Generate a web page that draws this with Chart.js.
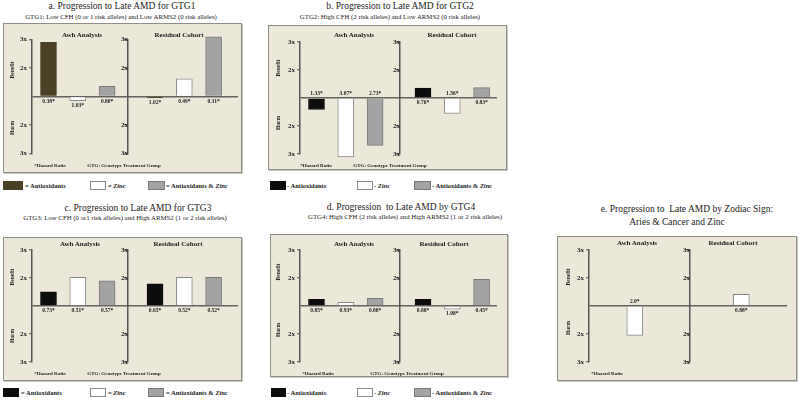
<!DOCTYPE html>
<html>
<head>
<meta charset="utf-8">
<script src="https://cdn.jsdelivr.net/npm/chart.js@4.4.1/dist/chart.umd.min.js"></script>
<style>
  body { margin: 0; width: 800px; height: 400px; background: #fff; position: relative; overflow: hidden; font-family: "Liberation Serif", serif; }
  .box { position: absolute; box-sizing: border-box; background: #ebe8d9; border: 1.5px solid #8e8e87; box-shadow: 1px 1px 0 #c9c9c2; }
  canvas { position: absolute; }
</style>
</head>
<body>
<script>
// ---- data ----
var treatments = ['Antioxidants', 'Zinc', 'Antioxidants & Zinc'];
var tickValues = [-2, -1, 0, 1, 2];
var tickLabels = ['3x', '2x', '', '2x', '3x'];

// benefit (+) / harm (-) bar heights, Awh analysis and residual cohort
var awhGTG1 = [1.9, -0.15, 0.36];
var resGTG1 = [-0.05, 0.62, 2.09];
var hrAwhGTG1 = ['0.38*', '1.03*', '0.80*'];
var hrResGTG1 = ['1.02*', '0.49*', '0.31*'];

var awhGTG2 = [-0.41, -2.1, -1.69];
var resGTG2 = [0.35, -0.55, 0.37];
var hrAwhGTG2 = ['1.33*', '3.07*', '2.73*'];
var hrResGTG2 = ['0.76*', '1.56*', '0.83*'];

var awhGTG3 = [0.51, 1.02, 0.9];
var resGTG3 = [0.79, 1.02, 1.02];
var hrAwhGTG3 = ['0.73*', '0.51*', '0.57*'];
var hrResGTG3 = ['0.65*', '0.52*', '0.52*'];

var awhGTG4 = [0.24, 0.13, 0.27];
var resGTG4 = [0.24, -0.11, 0.95];
var hrAwhGTG4 = ['0.85*', '0.93*', '0.88*'];
var hrResGTG4 = ['0.88*', '1.08*', '0.45*'];

var awhZodiac = [null, -1.05, null];
var resZodiac = [null, 0.42, null];
var hrAwhZodiac = [null, '2.0*', null];
var hrResZodiac = [null, '0.88*', null];

var titles = [
  'a. Progression to Late AMD for GTG1',
  'b. Progression to Late AMD for GTG2',
  'c. Progression to Late AMD for GTG3',
  'd. Progression  to Late AMD by GTG4',
  'e. Progression to  Late AMD by Zodiac Sign:'
];
var subtitles = [
  'GTG1: Low CFH (0 or 1 risk alleles) and Low ARMS2 (0 risk alleles)',
  'GTG2: High CFH (2 risk alleles) and Low ARMS2 (0 risk alleles)',
  'GTG3: Low CFH (0 or1 risk alleles) and High ARMS2 (1 or 2 risk alleles)',
  'GTG4: High CFH (2 risk alleles) and High ARMS2 (1 or 2 risk alleles)',
  'Aries & Cancer and Zinc'
];

// ---- layout (page pixels) ----
var RES_SHIFT = 3.635; // residual bars start after the gap
var panels = [
  { awh: awhGTG1, res: resGTG1, hr: hrAwhGTG1.concat(hrResGTG1), anti: '#4a4026',
    box: [3, 23, 239, 150], pad: { left: 15, right: 4, top: 16.5, bottom: 19.5 }, xMax: 6.467, resAxis: 2.713,
    title: [122, 6], sub: [121, 16, 6.8], heads: [[82, 35], [179, 35]], side: [[12, 70], [12, 128]],
    notes: [[50, 165], [124, 165]], legendY: 185, dash: '= ', legend: [[3, 20, 25], [90, 16, 108], [148, 17, 166]] },
  { awh: awhGTG2, res: resGTG2, hr: hrAwhGTG2.concat(hrResGTG2), anti: '#0c0c0c',
    box: [268, 25, 239, 145], pad: { left: 18, right: 10, top: 17, bottom: 16 }, xMax: 6.161, resAxis: 2.85,
    title: [400, 6], sub: [390, 16, 6.8], heads: [[354, 35], [452, 35]], side: [[278, 68], [278, 123]],
    notes: [[316, 165], [390, 165]], legendY: 185, dash: '- ', legend: [[270, 16, 287], [357, 16, 374], [414, 17, 432]] },
  { awh: awhGTG3, res: resGTG3, hr: hrAwhGTG3.concat(hrResGTG3), anti: '#0c0c0c',
    box: [3, 237, 239, 144], pad: { left: 15, right: 4, top: 13, bottom: 19 }, xMax: 6.467, resAxis: 2.713,
    title: [138, 208], sub: [125, 217, 6.8], heads: [[80, 244], [178, 244]], side: [[12, 277], [12, 336]],
    notes: [[50, 373], [124, 373]], legendY: 392, dash: '= ', legend: [[3, 16, 21], [90, 16, 108], [148, 16, 166]] },
  { awh: awhGTG4, res: resGTG4, hr: hrAwhGTG4.concat(hrResGTG4), anti: '#0c0c0c',
    box: [270, 234, 238, 143], pad: { left: 16, right: 11, top: 16, bottom: 15 }, xMax: 6.161, resAxis: 2.85,
    title: [401, 207], sub: [405, 216, 6.8], heads: [[354, 244], [444, 244]], side: [[278, 272], [278, 330]],
    notes: [[318, 373], [407, 373]], legendY: 392, dash: '- ', legend: [[271, 15, 287], [357, 16, 374], [414, 17, 432]] },
  { awh: awhZodiac, res: resZodiac, hr: hrAwhZodiac.concat(hrResZodiac), anti: '#0c0c0c',
    box: [557, 236, 240, 145], pad: { left: 18, right: 10, top: 14, bottom: 19 }, xMax: 6.195, resAxis: 2.88,
    title: [687, 209], sub: [677, 222, 9.5], heads: [[637, 243], [733, 243]], side: [[568, 277], [568, 328]],
    notes: [[607, 373]], legendY: null }
];

function el(tag, css, text) {
  var d = document.createElement(tag);
  d.style.cssText = css;
  if (text != null) d.textContent = text;
  document.body.appendChild(d);
  return d;
}
function label(x, y, text, font, rot) {
  return el('div', 'position:absolute;left:' + x + 'px;top:' + y + 'px;white-space:pre;color:#222;z-index:3;' +
    'transform:translate(-50%,-50%)' + (rot ? ' rotate(-90deg)' : '') + ';font:' + font + ';', text);
}

// hazard ratio text under / over each bar
var hrLabels = {
  id: 'hrLabels',
  afterDatasetsDraw: function (chart, args, opts) {
    var ctx = chart.ctx;
    var meta = chart.getDatasetMeta(0);
    var data = chart.data.datasets[0].data;
    var y0 = chart.scales.y.getPixelForValue(0);
    ctx.save();
    ctx.font = 'bold 5.5px "Liberation Serif"';
    ctx.fillStyle = '#222';
    ctx.textAlign = 'center';
    meta.data.forEach(function (bar, i) {
      var t = opts.texts[i];
      if (!t) return;
      var v = data[i].y;
      if (v >= 0) { ctx.textBaseline = 'top'; ctx.fillText(t, bar.x, y0 + 2); }
      else if (v > -0.25) { ctx.textBaseline = 'top'; ctx.fillText(t, bar.x, bar.y + 2); }
      else { ctx.textBaseline = 'bottom'; ctx.fillText(t, bar.x, y0 - 1.5); }
    });
    ctx.restore();
  }
};

function yAxis(pos, primary) {
  var zero = function (c) { return c.tick && c.tick.value === 0; };
  var ax = {
    position: pos, min: -2, max: 2,
    afterBuildTicks: function (s) { s.ticks = tickValues.map(function (v) { return { value: v }; }); },
    ticks: {
      autoSkip: false, padding: 2, color: '#222',
      font: { family: 'Liberation Serif', size: 7, weight: 'bold' },
      callback: function (v, i) { return tickLabels[i]; }
    },
    grid: {
      drawOnChartArea: primary, lineWidth: 1.5, tickLength: 3, tickWidth: 1,
      color: function (c) { return zero(c) ? '#62625e' : 'rgba(0,0,0,0)'; },
      tickColor: function (c) { return zero(c) ? 'rgba(0,0,0,0)' : '#555'; }
    },
    border: { color: '#555', width: 1.5 }
  };
  if (primary) ax.afterFit = function (s) { s.width = 14; };
  return ax;
}

panels.forEach(function (p, k) {
  var b = p.box;
  el('div', 'left:' + b[0] + 'px;top:' + b[1] + 'px;width:' + b[2] + 'px;height:' + b[3] + 'px;').className = 'box';

  label(p.title[0], p.title[1], titles[k], '9.5px "Liberation Serif"');
  label(p.sub[0], p.sub[1], subtitles[k], p.sub[2] + 'px "Liberation Serif"');
  label(p.heads[0][0], p.heads[0][1], 'Awh Analysis', 'bold 7px "Liberation Serif"');
  label(p.heads[1][0], p.heads[1][1], 'Residual Cohort', 'bold 7px "Liberation Serif"');
  label(p.side[0][0], p.side[0][1], 'Benefit', 'bold 5.5px "Liberation Serif"', true);
  label(p.side[1][0], p.side[1][1], 'Harm', 'bold 5.5px "Liberation Serif"', true);
  label(p.notes[0][0], p.notes[0][1], '*Hazard Ratio', 'bold 5px "Liberation Serif"');
  if (p.notes[1]) label(p.notes[1][0], p.notes[1][1], 'GTG: Genotype Treatment Group', 'bold 5px "Liberation Serif"');

  var fills = [p.anti, '#ffffff', '#a3a3a3'];
  var lines = [p.anti, '#8a8a8a', '#7a7a7a'];

  if (p.legendY) {
    p.legend.forEach(function (lg, i) {
      el('div', 'position:absolute;box-sizing:border-box;left:' + lg[0] + 'px;top:' + (p.legendY - 4.5) + 'px;width:' + lg[1] +
        'px;height:9px;background:' + fills[i] + ';border:1px solid ' + lines[i] + ';');
      var t = el('div', 'position:absolute;left:' + lg[2] + 'px;top:' + p.legendY + 'px;transform:translateY(-50%);white-space:pre;' +
        'font:bold 6.5px "Liberation Serif";color:#222;', p.dash);
      var parts = treatments[i].split('Zinc');
      t.appendChild(document.createTextNode(parts[0]));
      if (parts.length > 1) {
        var z = document.createElement('i');
        z.textContent = 'Zinc';
        t.appendChild(z);
      }
    });
  }

  var cv = el('canvas', 'left:' + b[0] + 'px;top:' + b[1] + 'px;z-index:2;');
  cv.width = b[2];
  cv.height = b[3];

  var pts = p.awh.map(function (v, i) { return { x: i, y: v }; })
    .concat(p.res.map(function (v, i) { return { x: i + RES_SHIFT, y: v }; }));

  new Chart(cv, {
    type: 'bar',
    data: {
      datasets: [{
        data: pts,
        backgroundColor: fills.concat(fills),
        borderColor: lines.concat(lines),
        borderWidth: 1,
        barThickness: 16,
        clip: false
      }]
    },
    options: {
      responsive: false,
      animation: false,
      events: [],
      layout: { padding: p.pad },
      plugins: { legend: { display: false }, tooltip: { enabled: false }, hrLabels: { texts: p.hr } },
      scales: {
        x: { type: 'linear', display: false, offset: false, min: -0.563, max: p.xMax },
        y: yAxis('left', true),
        y2: yAxis({ x: p.resAxis }, false)
      }
    },
    plugins: [hrLabels]
  });
});
</script>
</body>
</html>
